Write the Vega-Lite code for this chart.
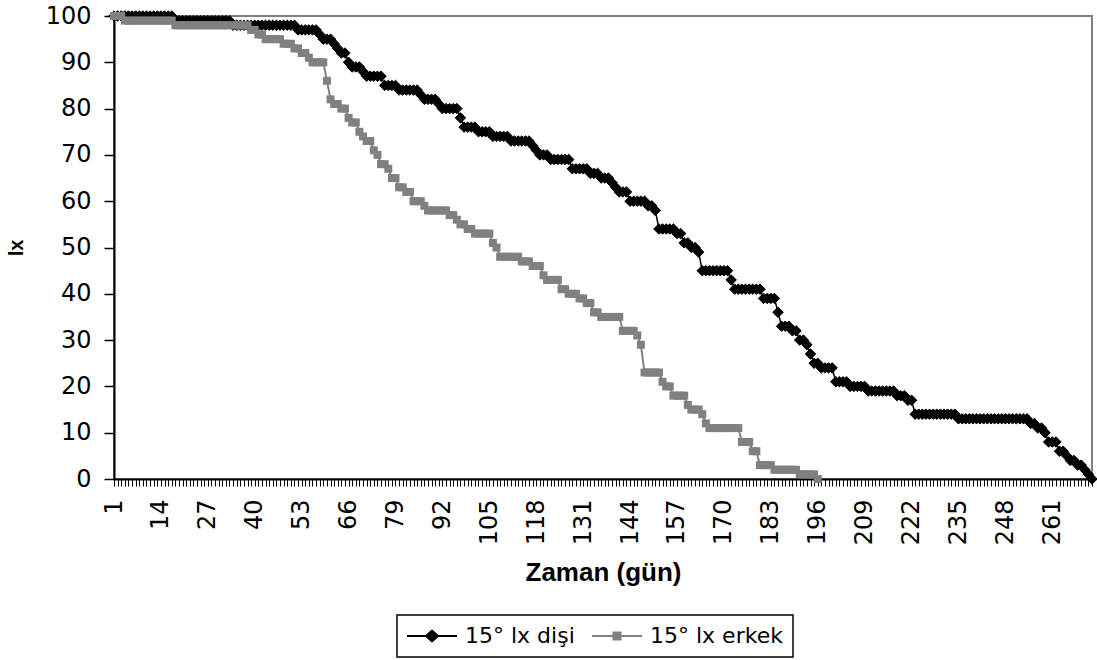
{
  "$schema": "https://vega.github.io/schema/vega-lite/v6.json",
  "width": 978,
  "height": 463,
  "autosize": "none",
  "padding": {"left": 114, "top": 16, "right": 5, "bottom": 181},
  "background": "white",
  "config": {
    "font": "DejaVu Sans",
    "view": {"stroke": "#808080", "strokeWidth": 2}
  },
  "datasets": {
    "disi": [
      {"gun":1,"lx":100},{"gun":2,"lx":100},{"gun":3,"lx":100},{"gun":4,"lx":100},{"gun":5,"lx":100},{"gun":6,"lx":100},{"gun":7,"lx":100},{"gun":8,"lx":100},{"gun":9,"lx":100},{"gun":10,"lx":100},
      {"gun":11,"lx":100},{"gun":12,"lx":100},{"gun":13,"lx":100},{"gun":14,"lx":100},{"gun":15,"lx":100},{"gun":16,"lx":100},{"gun":17,"lx":100},{"gun":18,"lx":99},{"gun":19,"lx":99},{"gun":20,"lx":99},
      {"gun":21,"lx":99},{"gun":22,"lx":99},{"gun":23,"lx":99},{"gun":24,"lx":99},{"gun":25,"lx":99},{"gun":26,"lx":99},{"gun":27,"lx":99},{"gun":28,"lx":99},{"gun":29,"lx":99},{"gun":30,"lx":99},
      {"gun":31,"lx":99},{"gun":32,"lx":99},{"gun":33,"lx":99},{"gun":34,"lx":98},{"gun":35,"lx":98},{"gun":36,"lx":98},{"gun":37,"lx":98},{"gun":38,"lx":98},{"gun":39,"lx":98},{"gun":40,"lx":98},
      {"gun":41,"lx":98},{"gun":42,"lx":98},{"gun":43,"lx":98},{"gun":44,"lx":98},{"gun":45,"lx":98},{"gun":46,"lx":98},{"gun":47,"lx":98},{"gun":48,"lx":98},{"gun":49,"lx":98},{"gun":50,"lx":98},
      {"gun":51,"lx":98},{"gun":52,"lx":97},{"gun":53,"lx":97},{"gun":54,"lx":97},{"gun":55,"lx":97},{"gun":56,"lx":97},{"gun":57,"lx":97},{"gun":58,"lx":96},{"gun":59,"lx":95},{"gun":60,"lx":95},
      {"gun":61,"lx":95},{"gun":62,"lx":94},{"gun":63,"lx":93},{"gun":64,"lx":92},{"gun":65,"lx":92},{"gun":66,"lx":90},{"gun":67,"lx":89},{"gun":68,"lx":89},{"gun":69,"lx":89},{"gun":70,"lx":88},
      {"gun":71,"lx":87},{"gun":72,"lx":87},{"gun":73,"lx":87},{"gun":74,"lx":87},{"gun":75,"lx":87},{"gun":76,"lx":85},{"gun":77,"lx":85},{"gun":78,"lx":85},{"gun":79,"lx":85},{"gun":80,"lx":84},
      {"gun":81,"lx":84},{"gun":82,"lx":84},{"gun":83,"lx":84},{"gun":84,"lx":84},{"gun":85,"lx":84},{"gun":86,"lx":83},{"gun":87,"lx":82},{"gun":88,"lx":82},{"gun":89,"lx":82},{"gun":90,"lx":82},
      {"gun":91,"lx":81},{"gun":92,"lx":80},{"gun":93,"lx":80},{"gun":94,"lx":80},{"gun":95,"lx":80},{"gun":96,"lx":80},{"gun":97,"lx":78},{"gun":98,"lx":76},{"gun":99,"lx":76},{"gun":100,"lx":76},
      {"gun":101,"lx":76},{"gun":102,"lx":75},{"gun":103,"lx":75},{"gun":104,"lx":75},{"gun":105,"lx":75},{"gun":106,"lx":74},{"gun":107,"lx":74},{"gun":108,"lx":74},{"gun":109,"lx":74},{"gun":110,"lx":74},
      {"gun":111,"lx":73},{"gun":112,"lx":73},{"gun":113,"lx":73},{"gun":114,"lx":73},{"gun":115,"lx":73},{"gun":116,"lx":73},{"gun":117,"lx":72},{"gun":118,"lx":71},{"gun":119,"lx":70},{"gun":120,"lx":70},
      {"gun":121,"lx":70},{"gun":122,"lx":69},{"gun":123,"lx":69},{"gun":124,"lx":69},{"gun":125,"lx":69},{"gun":126,"lx":69},{"gun":127,"lx":69},{"gun":128,"lx":67},{"gun":129,"lx":67},{"gun":130,"lx":67},
      {"gun":131,"lx":67},{"gun":132,"lx":67},{"gun":133,"lx":66},{"gun":134,"lx":66},{"gun":135,"lx":66},{"gun":136,"lx":65},{"gun":137,"lx":65},{"gun":138,"lx":65},{"gun":139,"lx":64},{"gun":140,"lx":63},
      {"gun":141,"lx":62},{"gun":142,"lx":62},{"gun":143,"lx":62},{"gun":144,"lx":60},{"gun":145,"lx":60},{"gun":146,"lx":60},{"gun":147,"lx":60},{"gun":148,"lx":60},{"gun":149,"lx":59},{"gun":150,"lx":59},
      {"gun":151,"lx":58},{"gun":152,"lx":54},{"gun":153,"lx":54},{"gun":154,"lx":54},{"gun":155,"lx":54},{"gun":156,"lx":54},{"gun":157,"lx":53},{"gun":158,"lx":53},{"gun":159,"lx":51},{"gun":160,"lx":51},
      {"gun":161,"lx":50},{"gun":162,"lx":50},{"gun":163,"lx":49},{"gun":164,"lx":45},{"gun":165,"lx":45},{"gun":166,"lx":45},{"gun":167,"lx":45},{"gun":168,"lx":45},{"gun":169,"lx":45},{"gun":170,"lx":45},
      {"gun":171,"lx":45},{"gun":172,"lx":43},{"gun":173,"lx":41},{"gun":174,"lx":41},{"gun":175,"lx":41},{"gun":176,"lx":41},{"gun":177,"lx":41},{"gun":178,"lx":41},{"gun":179,"lx":41},{"gun":180,"lx":41},
      {"gun":181,"lx":39},{"gun":182,"lx":39},{"gun":183,"lx":39},{"gun":184,"lx":39},{"gun":185,"lx":36},{"gun":186,"lx":33},{"gun":187,"lx":33},{"gun":188,"lx":33},{"gun":189,"lx":32},{"gun":190,"lx":32},
      {"gun":191,"lx":30},{"gun":192,"lx":30},{"gun":193,"lx":29},{"gun":194,"lx":27},{"gun":195,"lx":25},{"gun":196,"lx":25},{"gun":197,"lx":24},{"gun":198,"lx":24},{"gun":199,"lx":24},{"gun":200,"lx":24},
      {"gun":201,"lx":21},{"gun":202,"lx":21},{"gun":203,"lx":21},{"gun":204,"lx":21},{"gun":205,"lx":20},{"gun":206,"lx":20},{"gun":207,"lx":20},{"gun":208,"lx":20},{"gun":209,"lx":20},{"gun":210,"lx":19},
      {"gun":211,"lx":19},{"gun":212,"lx":19},{"gun":213,"lx":19},{"gun":214,"lx":19},{"gun":215,"lx":19},{"gun":216,"lx":19},{"gun":217,"lx":19},{"gun":218,"lx":18},{"gun":219,"lx":18},{"gun":220,"lx":18},
      {"gun":221,"lx":17},{"gun":222,"lx":17},{"gun":223,"lx":14},{"gun":224,"lx":14},{"gun":225,"lx":14},{"gun":226,"lx":14},{"gun":227,"lx":14},{"gun":228,"lx":14},{"gun":229,"lx":14},{"gun":230,"lx":14},
      {"gun":231,"lx":14},{"gun":232,"lx":14},{"gun":233,"lx":14},{"gun":234,"lx":14},{"gun":235,"lx":13},{"gun":236,"lx":13},{"gun":237,"lx":13},{"gun":238,"lx":13},{"gun":239,"lx":13},{"gun":240,"lx":13},
      {"gun":241,"lx":13},{"gun":242,"lx":13},{"gun":243,"lx":13},{"gun":244,"lx":13},{"gun":245,"lx":13},{"gun":246,"lx":13},{"gun":247,"lx":13},{"gun":248,"lx":13},{"gun":249,"lx":13},{"gun":250,"lx":13},
      {"gun":251,"lx":13},{"gun":252,"lx":13},{"gun":253,"lx":13},{"gun":254,"lx":13},{"gun":255,"lx":12},{"gun":256,"lx":12},{"gun":257,"lx":11},{"gun":258,"lx":11},{"gun":259,"lx":10},{"gun":260,"lx":8},
      {"gun":261,"lx":8},{"gun":262,"lx":8},{"gun":263,"lx":6},{"gun":264,"lx":6},{"gun":265,"lx":5},{"gun":266,"lx":4},{"gun":267,"lx":4},{"gun":268,"lx":3},{"gun":269,"lx":3},{"gun":270,"lx":2},
      {"gun":271,"lx":1},{"gun":272,"lx":0}
    ],
    "erkek": [
      {"gun":1,"lx":100},{"gun":2,"lx":100},{"gun":3,"lx":100},{"gun":4,"lx":99},{"gun":5,"lx":99},{"gun":6,"lx":99},{"gun":7,"lx":99},{"gun":8,"lx":99},{"gun":9,"lx":99},{"gun":10,"lx":99},
      {"gun":11,"lx":99},{"gun":12,"lx":99},{"gun":13,"lx":99},{"gun":14,"lx":99},{"gun":15,"lx":99},{"gun":16,"lx":99},{"gun":17,"lx":99},{"gun":18,"lx":98},{"gun":19,"lx":98},{"gun":20,"lx":98},
      {"gun":21,"lx":98},{"gun":22,"lx":98},{"gun":23,"lx":98},{"gun":24,"lx":98},{"gun":25,"lx":98},{"gun":26,"lx":98},{"gun":27,"lx":98},{"gun":28,"lx":98},{"gun":29,"lx":98},{"gun":30,"lx":98},
      {"gun":31,"lx":98},{"gun":32,"lx":98},{"gun":33,"lx":98},{"gun":34,"lx":98},{"gun":35,"lx":98},{"gun":36,"lx":98},{"gun":37,"lx":98},{"gun":38,"lx":98},{"gun":39,"lx":97},{"gun":40,"lx":97},
      {"gun":41,"lx":96},{"gun":42,"lx":96},{"gun":43,"lx":95},{"gun":44,"lx":95},{"gun":45,"lx":95},{"gun":46,"lx":95},{"gun":47,"lx":95},{"gun":48,"lx":94},{"gun":49,"lx":94},{"gun":50,"lx":94},
      {"gun":51,"lx":93},{"gun":52,"lx":93},{"gun":53,"lx":92},{"gun":54,"lx":92},{"gun":55,"lx":91},{"gun":56,"lx":90},{"gun":57,"lx":90},{"gun":58,"lx":90},{"gun":59,"lx":90},{"gun":60,"lx":86},
      {"gun":61,"lx":82},{"gun":62,"lx":81},{"gun":63,"lx":81},{"gun":64,"lx":80},{"gun":65,"lx":80},{"gun":66,"lx":78},{"gun":67,"lx":77},{"gun":68,"lx":77},{"gun":69,"lx":75},{"gun":70,"lx":74},
      {"gun":71,"lx":73},{"gun":72,"lx":73},{"gun":73,"lx":71},{"gun":74,"lx":70},{"gun":75,"lx":68},{"gun":76,"lx":68},{"gun":77,"lx":67},{"gun":78,"lx":65},{"gun":79,"lx":65},{"gun":80,"lx":63},
      {"gun":81,"lx":63},{"gun":82,"lx":62},{"gun":83,"lx":62},{"gun":84,"lx":60},{"gun":85,"lx":60},{"gun":86,"lx":60},{"gun":87,"lx":59},{"gun":88,"lx":58},{"gun":89,"lx":58},{"gun":90,"lx":58},
      {"gun":91,"lx":58},{"gun":92,"lx":58},{"gun":93,"lx":58},{"gun":94,"lx":57},{"gun":95,"lx":57},{"gun":96,"lx":56},{"gun":97,"lx":55},{"gun":98,"lx":55},{"gun":99,"lx":54},{"gun":100,"lx":54},
      {"gun":101,"lx":53},{"gun":102,"lx":53},{"gun":103,"lx":53},{"gun":104,"lx":53},{"gun":105,"lx":53},{"gun":106,"lx":51},{"gun":107,"lx":50},{"gun":108,"lx":48},{"gun":109,"lx":48},{"gun":110,"lx":48},
      {"gun":111,"lx":48},{"gun":112,"lx":48},{"gun":113,"lx":48},{"gun":114,"lx":47},{"gun":115,"lx":47},{"gun":116,"lx":47},{"gun":117,"lx":46},{"gun":118,"lx":46},{"gun":119,"lx":46},{"gun":120,"lx":44},
      {"gun":121,"lx":43},{"gun":122,"lx":43},{"gun":123,"lx":43},{"gun":124,"lx":43},{"gun":125,"lx":41},{"gun":126,"lx":41},{"gun":127,"lx":40},{"gun":128,"lx":40},{"gun":129,"lx":40},{"gun":130,"lx":39},
      {"gun":131,"lx":39},{"gun":132,"lx":38},{"gun":133,"lx":38},{"gun":134,"lx":36},{"gun":135,"lx":36},{"gun":136,"lx":35},{"gun":137,"lx":35},{"gun":138,"lx":35},{"gun":139,"lx":35},{"gun":140,"lx":35},
      {"gun":141,"lx":35},{"gun":142,"lx":32},{"gun":143,"lx":32},{"gun":144,"lx":32},{"gun":145,"lx":32},{"gun":146,"lx":31},{"gun":147,"lx":29},{"gun":148,"lx":23},{"gun":149,"lx":23},{"gun":150,"lx":23},
      {"gun":151,"lx":23},{"gun":152,"lx":23},{"gun":153,"lx":21},{"gun":154,"lx":20},{"gun":155,"lx":20},{"gun":156,"lx":18},{"gun":157,"lx":18},{"gun":158,"lx":18},{"gun":159,"lx":18},{"gun":160,"lx":16},
      {"gun":161,"lx":15},{"gun":162,"lx":15},{"gun":163,"lx":15},{"gun":164,"lx":14},{"gun":165,"lx":12},{"gun":166,"lx":11},{"gun":167,"lx":11},{"gun":168,"lx":11},{"gun":169,"lx":11},{"gun":170,"lx":11},
      {"gun":171,"lx":11},{"gun":172,"lx":11},{"gun":173,"lx":11},{"gun":174,"lx":11},{"gun":175,"lx":8},{"gun":176,"lx":8},{"gun":177,"lx":8},{"gun":178,"lx":6},{"gun":179,"lx":6},{"gun":180,"lx":3},
      {"gun":181,"lx":3},{"gun":182,"lx":3},{"gun":183,"lx":3},{"gun":184,"lx":2},{"gun":185,"lx":2},{"gun":186,"lx":2},{"gun":187,"lx":2},{"gun":188,"lx":2},{"gun":189,"lx":2},{"gun":190,"lx":2},
      {"gun":191,"lx":1},{"gun":192,"lx":1},{"gun":193,"lx":1},{"gun":194,"lx":1},{"gun":195,"lx":1},{"gun":196,"lx":0}
    ]
  },
  "encoding": {
    "x": {
      "field": "gun",
      "type": "ordinal",
      "scale": {"type": "point", "padding": 0},
      "axis": {
        "title": "Zaman (gün)",
        "titleFont": "Liberation Sans",
        "titleFontSize": 26,
        "titleFontWeight": "bold",
        "titleColor": "black",
        "titlePadding": 15,
        "labelAngle": -90,
        "labelFontSize": 24,
        "labelColor": "black",
        "labelExpr": "(datum.value - 1) % 13 === 0 ? datum.label : ''",
        "labelOverlap": false,
        "labelBound": false,
        "labelPadding": 13,
        "tickSize": 7,
        "tickWidth": 1,
        "tickColor": "black",
        "domainColor": "black",
        "domainWidth": 2,
        "grid": false
      }
    },
    "y": {
      "field": "lx",
      "type": "quantitative",
      "scale": {"domain": [0, 100], "nice": false, "zero": true},
      "axis": {
        "title": "lx",
        "titleFont": "Liberation Sans",
        "titleFontSize": 20,
        "titleFontWeight": "bold",
        "titleColor": "black",
        "titlePadding": 19,
        "values": [0, 10, 20, 30, 40, 50, 60, 70, 80, 90, 100],
        "labelFontSize": 24,
        "labelColor": "black",
        "labelPadding": 13,
        "tickSize": 10,
        "tickWidth": 1.5,
        "tickColor": "black",
        "domainColor": "black",
        "domainWidth": 2,
        "grid": false
      }
    }
  },
  "layer": [
    {
      "data": {"name": "disi"},
      "mark": {"type": "line", "strokeWidth": 1.5},
      "encoding": {
        "color": {
          "datum": "15° lx dişi",
          "type": "nominal",
          "scale": {"domain": ["15° lx dişi", "15° lx erkek"], "range": ["black", "#808080"]},
          "legend": {
            "title": null,
            "orient": "none",
            "legendX": 283,
            "legendY": 599,
            "direction": "horizontal",
            "strokeColor": "black",
            "fillColor": "white",
            "padding": 10,
            "labelFontSize": 22,
            "labelColor": "black",
            "labelOffset": 22,
            "symbolOffset": 14,
            "symbolSize": 400,
            "columnPadding": 13,
            "encode": {
              "legend": {
                "update": {"strokeWidth": {"value": 1.5}}
              },
              "symbols": {
                "update": {
                  "shape": {"signal": "datum.value === '15° lx dişi' ? 'M-2.5,0H2.5M-0.6,0L0,-0.55L0.6,0L0,0.55Z' : 'M-2.5,0H2.5M-0.35,-0.35H0.35V0.35H-0.35Z'"},
                  "fill": {"signal": "datum.value === '15° lx dişi' ? 'black' : '#808080'"},
                  "stroke": {"signal": "datum.value === '15° lx dişi' ? 'black' : '#808080'"},
                  "strokeWidth": {"value": 2},
                  "opacity": {"value": 1}
                }
              }
            }
          }
        }
      }
    },
    {
      "data": {"name": "disi"},
      "mark": {"type": "point", "shape": "diamond", "filled": true, "color": "black", "stroke": "black", "strokeWidth": 1, "size": 110, "opacity": 1}
    },
    {
      "data": {"name": "erkek"},
      "mark": {"type": "line", "strokeWidth": 2},
      "encoding": {
        "color": {"datum": "15° lx erkek", "type": "nominal"}
      }
    },
    {
      "data": {"name": "erkek"},
      "mark": {"type": "point", "shape": "square", "filled": true, "color": "#808080", "strokeWidth": 0, "size": 64, "opacity": 1}
    }
  ]
}
